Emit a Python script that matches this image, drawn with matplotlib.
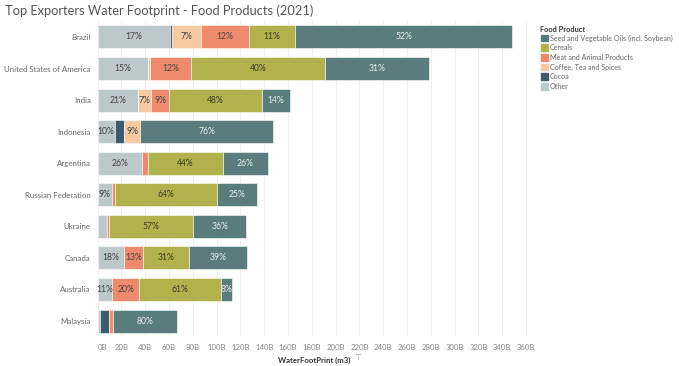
import matplotlib
matplotlib.use("Agg")
import matplotlib.pyplot as plt
from matplotlib.patches import Rectangle
import numpy as np

countries = ["Brazil", "United States of America", "India", "Indonesia", "Argentina",
             "Russian Federation", "Ukraine", "Canada", "Australia", "Malaysia"]

# Stack order (left to right): Other, Cocoa, Coffee, Meat, Cereals, Seed oils  (values in billions m3)
other   = [60.8, 42.5, 33.6, 14.5, 37.5, 11.8, 8.0, 22.3, 12.2, 2.0]
cocoa   = [1.7, 0.0, 0.0, 8.0, 0.0, 0.0, 0.0, 0.0, 0.0, 7.8]
coffee  = [24.4, 1.5, 11.5, 13.0, 0.0, 0.0, 0.0, 0.0, 0.0, 0.0]
meat    = [40.3, 34.5, 15.1, 0.0, 4.7, 3.1, 1.5, 16.0, 22.7, 3.4]
cereals = [38.9, 112.5, 78.2, 0.0, 63.4, 85.5, 71.0, 38.5, 68.9, 0.0]
seed    = [182.3, 87.5, 22.9, 112.0, 37.2, 33.2, 44.5, 48.5, 9.0, 53.8]

tick_values = list(range(0, 361, 20))
tick_labels = [f"{v}B" for v in tick_values]

series = [
    ("Other", other, "#bcc8ca", "#444444"),
    ("Cocoa", cocoa, "#3d5a6e", "#ffffff"),
    ("Coffee, Tea and Spices", coffee, "#f6c9a0", "#444444"),
    ("Meat and Animal Products", meat, "#ef8a6c", "#444444"),
    ("Cereals", cereals, "#b1b24b", "#3a3a2a"),
    ("Seed and Vegetable Oils (incl. Soybean)", seed, "#5a7c7d", "#e8eeee"),
]
legend_order = ["Seed and Vegetable Oils (incl. Soybean)", "Cereals", "Meat and Animal Products",
                "Coffee, Tea and Spices", "Cocoa", "Other"]

W, H = 679, 366
fig = plt.figure(figsize=(W / 100, H / 100), dpi=100)
plt.rcParams['font.family'] = ['Lato', 'DejaVu Sans']

x0, x1 = 97.6, 530.8
ytop, ybot = 21.2, 336.8
ax = fig.add_axes([x0 / W, 1 - ybot / H, (x1 - x0) / W, (ybot - ytop) / H])

totals = np.sum([s[1] for s in series], axis=0)
y = np.arange(len(countries))
left = np.zeros(len(countries))
for name, vals, col, tcol in series:
    vals = np.array(vals)
    ax.barh(y, vals, left=left, height=0.73, color=col, edgecolor="white", linewidth=0.4, zorder=3)
    for i, v in enumerate(vals):
        if v >= 8.5:
            pct = round(100 * v / totals[i])
            ax.text(left[i] + v / 2, y[i], f"{pct}%", ha="center", va="center",
                    fontsize=6.2, color=tcol, zorder=4)
    left += vals

ax.set_xlim(0, 364)
ax.set_ylim(len(countries) - 0.5, -0.5)
ax.set_yticks(y)
ax.set_yticklabels(countries, fontsize=5.7, color="#666666")
ax.set_xticks(tick_values)
ax.set_xticklabels(tick_labels, fontsize=5.6, color="#888888")
ax.get_xticklabels()[0].set_ha("left")
ax.tick_params(length=0, pad=5)
ax.tick_params(axis="y", pad=5)
ax.xaxis.grid(True, color="#efefef", linewidth=0.7, zorder=0)
for s in ax.spines.values():
    s.set_visible(False)
ax.set_xlabel("WaterFootPrint (m3)", fontsize=5.6, color="#333333", fontweight="bold", labelpad=4)
fig.text(354 / W, 1 - 357 / H, "⊤", fontsize=5.5, color="#999999", va="center", family=['DejaVu Sans'])

fig.text(5 / W, 1 - 11 / H, "Top Exporters Water Footprint - Food Products (2021)",
         fontsize=9.3, color="#555555", va="center", ha="left")

# Legend
fig.text(540 / W, 1 - 29 / H, "Food Product", fontsize=5.3, color="#333333", fontweight="bold", va="center")
colmap = {s[0]: s[2] for s in series}
for k, name in enumerate(legend_order):
    yc = 38 + k * 9.7
    fig.add_artist(Rectangle((541 / W, 1 - (yc + 3.3) / H), 6.6 / W, 6.6 / H,
                             transform=fig.transFigure, color=colmap[name]))
    fig.text(549.5 / W, 1 - yc / H, name, fontsize=5.15, color="#666666", va="center")

fig.savefig("out.png", dpi=100)
